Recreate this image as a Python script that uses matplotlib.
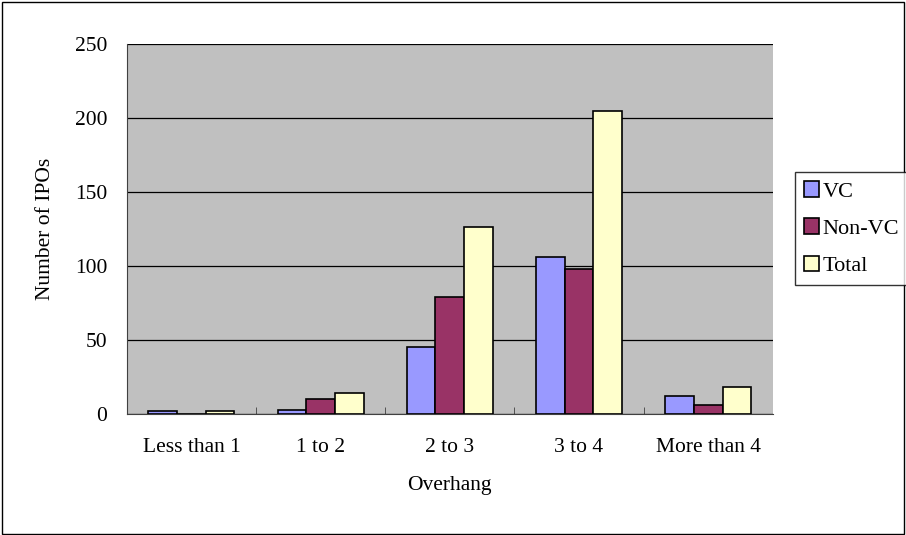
import matplotlib.pyplot as plt
import numpy as np
from matplotlib.patches import Rectangle

plt.rcParams['font.family'] = ['Liberation Serif', 'DejaVu Serif']

categories = ['Less than 1', '1 to 2', '2 to 3', '3 to 4', 'More than 4']
vc = [2, 3, 45, 106, 12]
non_vc = [0, 10, 79, 98, 6]
total = [2, 14, 126, 205, 18]

series = [('VC', vc, '#9999FF'), ('Non-VC', non_vc, '#993366'), ('Total', total, '#FFFFCC')]
fs = 15.5

fig = plt.figure(figsize=(9.06, 5.35), dpi=100)
fig.patches.append(Rectangle((0.002, 0.002), 0.996, 0.994, transform=fig.transFigure,
                             fill=False, edgecolor='black', linewidth=1))
ax = fig.add_axes([0.140, 0.226, 0.713, 0.692])
ax.set_facecolor('#C0C0C0')

x = np.arange(len(categories))
w = 0.222
for i, (name, vals, col) in enumerate(series):
    ax.bar(x + (i - 1) * w, vals, w, color=col, edgecolor='black', linewidth=1.2,
           label=name, zorder=3)

ax.set_xlim(-0.5, len(categories) - 0.5)
ax.set_ylim(0, 250)
ax.set_yticks(range(0, 251, 50))
ax.yaxis.grid(True, color='black', linewidth=0.9)
ax.set_axisbelow(True)

ax.set_xticks(x)
ax.set_xticklabels(categories, fontsize=fs)
ax.tick_params(axis='x', length=0, pad=17)
ax.set_xticks(np.arange(0.5, len(categories) - 1, 1), minor=True)
ax.tick_params(axis='x', which='minor', direction='in', length=5, color='#404040')
ax.tick_params(axis='y', labelsize=fs, length=0, pad=14)

for side in ['top', 'right']:
    ax.spines[side].set_visible(False)
ax.spines['left'].set_color('#404040')
ax.spines['bottom'].set_color('#404040')

ax.set_xlabel('Overhang', fontsize=fs, labelpad=14)
ax.set_ylabel('Number of IPOs', fontsize=fs, labelpad=14)

leg = fig.legend(loc='upper left', bbox_to_anchor=(0.877, 0.679), fontsize=16,
                 frameon=True, fancybox=False, edgecolor='black', handlelength=0.7,
                 handleheight=0.7, handletextpad=0.15, labelspacing=0.75, borderpad=0.42,
                 borderaxespad=0)
leg.get_frame().set_linewidth(1)

fig.savefig('out.png', dpi=100)
